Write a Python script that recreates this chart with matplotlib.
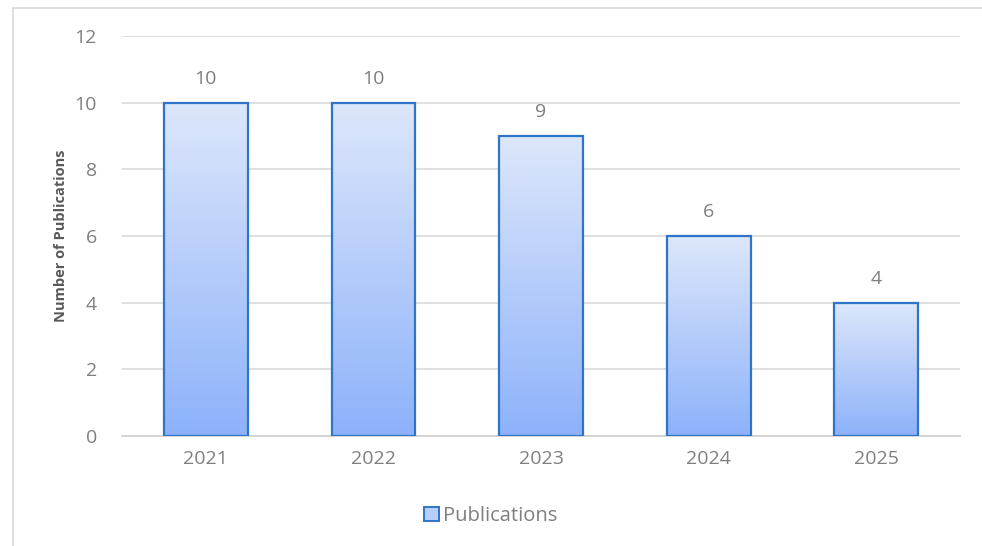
import numpy as np
import matplotlib
matplotlib.use("Agg")
import matplotlib.pyplot as plt
from matplotlib.colors import LinearSegmentedColormap
from matplotlib.lines import Line2D

years = ["2021", "2022", "2023", "2024", "2025"]
publications = [10, 10, 9, 6, 4]

plt.rcParams['font.family'] = ['Open Sans', 'DejaVu Sans']

fig = plt.figure(figsize=(9.82, 5.46), dpi=100)
ax = fig.add_axes([122 / 982, 1 - 436 / 546, (960 - 122) / 982, 400 / 546])

# outer chart frame (left + top edges visible)
fig.add_artist(Line2D([13 / 982, 13 / 982], [0, 1 - 8 / 546], transform=fig.transFigure,
                      color='#d9d9d9', lw=1.2))
fig.add_artist(Line2D([13 / 982, 1], [1 - 8 / 546, 1 - 8 / 546], transform=fig.transFigure,
                      color='#d9d9d9', lw=1.2))

x = np.arange(len(years))
bars = ax.bar(x, publications, width=0.5, color='none', edgecolor='#2e75c9',
              linewidth=1.6, zorder=3, label='Publications')

cmap = LinearSegmentedColormap.from_list('grad', ['#8db2fa', '#dde7fb'])
grad = np.linspace(0, 1, 256).reshape(-1, 1)
for b in bars:
    x0, w, h = b.get_x(), b.get_width(), b.get_height()
    im = ax.imshow(grad, cmap=cmap, aspect='auto', origin='lower',
                   extent=[x0, x0 + w, 0, h], zorder=2)
    im.set_clip_path(b)
    ax.text(x0 + w / 2, h + 0.45, str(int(h)), ha='center', va='bottom',
            color='#7f7f7f', fontsize=14)

ax.set_xlim(-0.5, len(years) - 0.5)
ax.set_ylim(0, 12)
ax.set_yticks(range(0, 13, 2))
ax.set_xticks(x)
ax.set_xticklabels(years)
ax.tick_params(axis='both', length=0, colors='#7f7f7f', labelsize=14)
ax.tick_params(axis='y', pad=18)
ax.tick_params(axis='x', pad=10)
ax.grid(axis='y', color='#d9d9d9', lw=1.2, zorder=0)
ax.set_axisbelow(True)
for s in ['top', 'right', 'left']:
    ax.spines[s].set_visible(False)
ax.spines['bottom'].set_color('#d0d0d0')
ax.spines['bottom'].set_linewidth(1.2)

ax.set_ylabel('Number of Publications', fontsize=10.5, fontweight='bold',
              color='#595959', labelpad=5)

handle = plt.Rectangle((0, 0), 1, 1, facecolor='#b7cffa', edgecolor='#2e75c9', lw=1.4)
fig.legend([handle], ['Publications'], loc='center', bbox_to_anchor=(0.5, 1 - 516 / 546),
           frameon=False, fontsize=14.5, labelcolor='#7f7f7f', handlelength=0.75,
           handleheight=0.75, handletextpad=0.2)

fig.savefig('out.png', dpi=100)
